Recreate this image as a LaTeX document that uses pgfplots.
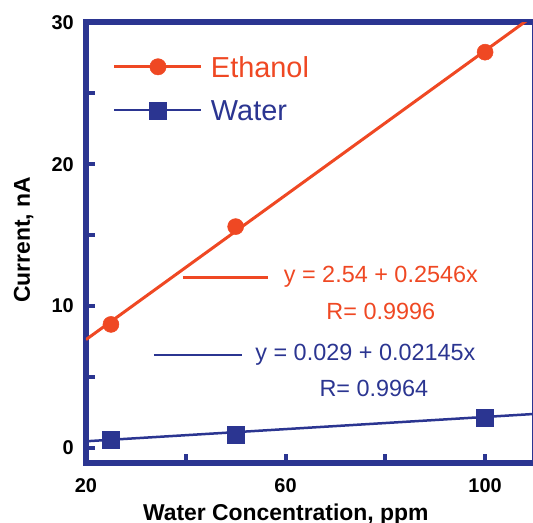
\documentclass[border=0pt]{standalone}
\usepackage{pgfplots}
\pgfplotsset{compat=1.18}
\usepackage{fontspec}
\setmainfont{Liberation Sans}
\definecolor{eth}{RGB}{239,72,35}
\definecolor{wat}{RGB}{43,53,145}
\begin{document}
\begin{tikzpicture}
\begin{axis}[
  at={(0,0)}, anchor=south west,
  scale only axis, width=449bp, height=441bp,
  xmin=20, xmax=110, ymin=-1.1, ymax=30,
  axis line style={wat, line width=6bp},
  tick style={wat, line width=4bp},
  major tick length=9bp, minor tick length=9bp,
  tick align=inside, tick pos=left,
  xtick={20,60,100}, minor xtick={40,80},
  ytick={0,10,20,30}, minor ytick={5,15,25},
  /pgf/number format/assume math mode=true,
  ticklabel style={font=\fontsize{20}{24}\selectfont\bfseries, text=black},
  yticklabel style={inner sep=0pt, anchor=east, xshift=-12bp},
  xticklabel style={inner sep=0pt, anchor=north, yshift=-15bp},
  xlabel={Water Concentration, ppm},
  ylabel={Current, nA},
  label style={font=\fontsize{23}{28}\selectfont\bfseries, text=black},
  xlabel style={at={(axis description cs:0.445,0)}, anchor=base, yshift=-57.5bp, inner sep=0pt},
  ylabel style={at={(axis description cs:-0.125,0.507)}, anchor=base, rotate=0, inner sep=0pt},
  legend style={at={(axis description cs:0.0601,0.923)}, anchor=north west,
    draw=none, fill=none, inner sep=0pt, outer sep=0pt,
    row sep=23bp, column sep=8bp,
    nodes={inner sep=0pt, text depth=0pt, font=\fontsize{29}{34}\selectfont},
    cells={anchor=west}},
]
% fitted lines
\addplot[eth, line width=3bp, forget plot] coordinates {(20,7.63) (110,30.55)};
\addplot[wat, line width=2.5bp, forget plot] coordinates {(20,0.46) (110,2.39)};
% data
\addplot[eth, only marks, mark=*, mark size=8bp, mark options={fill=eth, draw=eth, line width=0.5bp},
  legend image code/.code={\draw[eth, line width=3bp] (0bp,0bp) -- (87bp,0bp); \fill[eth] (43.5bp,0bp) circle[radius=8.2bp];}]
  coordinates {(25,8.7) (50,15.6) (100,27.9)};
\addlegendentry{\textcolor{eth}{Ethanol}}
\addplot[wat, only marks, mark=square*, mark size=8.5bp, mark options={fill=wat, draw=wat, line width=0.5bp},
  legend image code/.code={\draw[wat, line width=2.5bp] (0bp,0bp) -- (87bp,0bp); \fill[wat] (35bp,-8.5bp) rectangle (52bp,8.5bp);}]
  coordinates {(25,0.55) (50,0.95) (100,2.1)};
\addlegendentry{\textcolor{wat}{Water}}
% annotation lines
\addplot[eth, line width=2.5bp, forget plot] coordinates {(39.4,12.0) (56.5,12.0)};
\addplot[wat, line width=2.5bp, forget plot] coordinates {(33.6,6.56) (51.3,6.56)};
\node[eth, inner sep=0pt, font=\fontsize{23.5}{28}\selectfont] at (axis cs:79.1,12.06) {y = 2.54 + 0.2546x};
\node[eth, inner sep=0pt, font=\fontsize{23.5}{28}\selectfont] at (axis cs:79.1,9.6) {R= 0.9996};
\node[wat, inner sep=0pt, font=\fontsize{23.5}{28}\selectfont] at (axis cs:76.0,6.56) {y = 0.029 + 0.02145x};
\node[wat, inner sep=0pt, font=\fontsize{23.5}{28}\selectfont] at (axis cs:77.7,4.16) {R= 0.9964};
\end{axis}
\pgfresetboundingbox
\useasboundingbox (-86bp,-59.6bp) rectangle (447bp,463.4bp);
\end{tikzpicture}
\end{document}
